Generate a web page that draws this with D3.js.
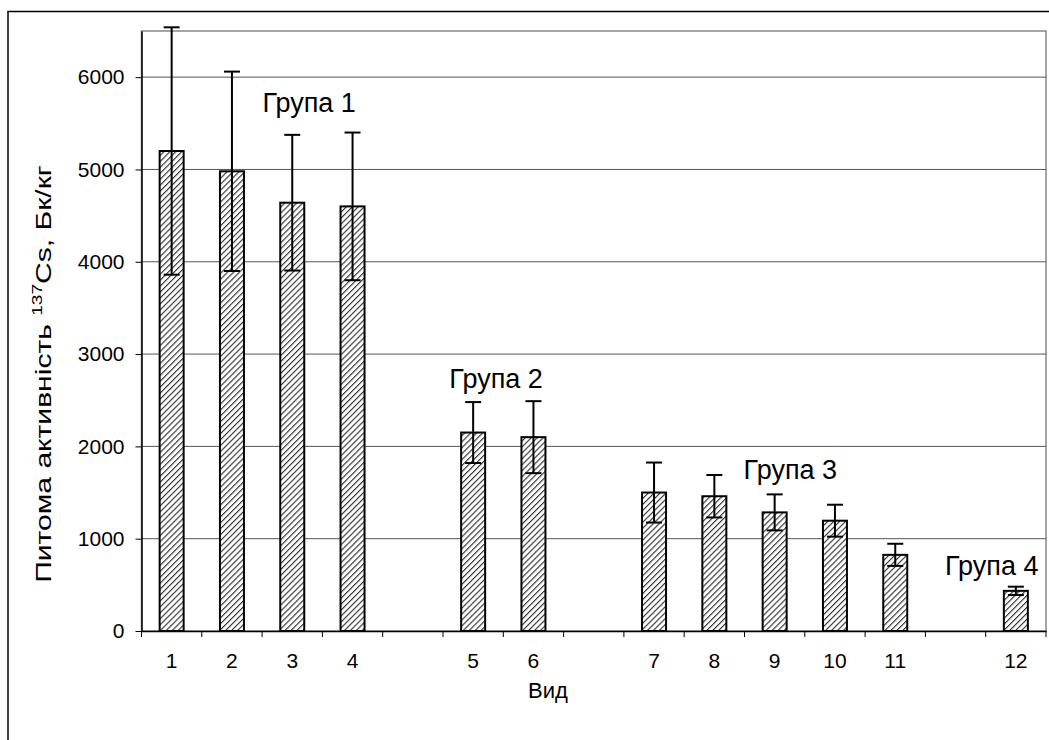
<!DOCTYPE html>
<html>
<head>
<meta charset="utf-8">
<script src="https://cdn.jsdelivr.net/npm/d3@7"></script>
<style>
  body { margin: 0; background: #fff; }
  text { font-family: "Liberation Sans", Arial, sans-serif; fill: #000; }
</style>
</head>
<body>
<svg id="chart" width="1049" height="740"></svg>
<script>
// slots on the x axis, empty strings are the gaps between groups
var categories = ['1', '2', '3', '4', '', '5', '6', '', '7', '8', '9', '10', '11', '', '12'];
var values = [5200, 4980, 4640, 4600, null, 2150, 2100, null, 1500, 1460, 1285, 1195, 825, null, 435];
var errors = [1340, 1080, 735, 800, null, 330, 390, null, 325, 230, 195, 173, 120, null, 45];
var yTicks = [0, 1000, 2000, 3000, 4000, 5000, 6000];
var groupLabels = ['Група 1', 'Група 2', 'Група 3', 'Група 4'];
var groupPos = [2.78, 5.88, 10.76, 14.1];      // in slot units
var groupVal = [5620, 2630, 1645, 610];         // baseline value

var svg = d3.select('#chart');
var margin = { left: 141.5, top: 31, right: 1046, bottom: 631 };
var font = '"Liberation Sans", Arial, sans-serif';

var x = d3.scaleBand()
  .domain(d3.range(categories.length))
  .range([margin.left, margin.right])
  .padding(0);
var xPos = d3.scaleLinear().domain([0, categories.length]).range([margin.left, margin.right]);
var y = d3.scaleLinear().domain([0, 6500]).range([margin.bottom, margin.top]);

// hatch
var defs = svg.append('defs');
var pat = defs.append('pattern')
  .attr('id', 'hatch')
  .attr('patternUnits', 'userSpaceOnUse')
  .attr('width', 4.2).attr('height', 4.2)
  .attr('patternTransform', 'rotate(45)');
pat.append('rect').attr('width', 4.2).attr('height', 4.2).attr('fill', '#fff');
pat.append('line')
  .attr('x1', 0).attr('y1', 0).attr('x2', 0).attr('y2', 4.2)
  .attr('stroke', '#333').attr('stroke-width', 2.3);

// outer frame (only top and left visible)
svg.append('path')
  .attr('d', 'M8,740 V11.5 H1049')
  .attr('fill', 'none').attr('stroke', '#000').attr('stroke-width', 1.5);

// plot frame
svg.append('rect')
  .attr('x', margin.left).attr('y', margin.top)
  .attr('width', margin.right - margin.left).attr('height', margin.bottom - margin.top)
  .attr('fill', 'none').attr('stroke', '#888').attr('stroke-width', 1.5);

// grid
svg.append('g').selectAll('line')
  .data(yTicks.filter(function(d) { return d > 0; }))
  .enter().append('line')
  .attr('x1', margin.left).attr('x2', margin.right)
  .attr('y1', function(d) { return y(d); }).attr('y2', function(d) { return y(d); })
  .attr('stroke', '#555').attr('stroke-width', 1);

// y axis
var yAxis = svg.append('g')
  .attr('transform', 'translate(' + margin.left + ',0)')
  .call(d3.axisLeft(y).tickValues(yTicks).tickFormat(d3.format('d'))
    .tickSize(6).tickPadding(11).tickSizeOuter(0));
yAxis.attr('font-size', 21).attr('font-family', font);
yAxis.select('.domain').attr('stroke', '#000').attr('stroke-width', 1.5);
yAxis.selectAll('.tick line').attr('stroke', '#000');

// x axis
var xAxis = svg.append('g')
  .attr('transform', 'translate(0,' + margin.bottom + ')')
  .call(d3.axisBottom(x).tickFormat(function(i) { return categories[i]; }).tickSize(0).tickPadding(22));
xAxis.attr('font-size', 21).attr('font-family', font);
xAxis.select('.domain').attr('stroke', '#000').attr('stroke-width', 1.5);
svg.append('g').selectAll('line')
  .data(d3.range(categories.length + 1))
  .enter().append('line')
  .attr('x1', function(i) { return xPos(i); }).attr('x2', function(i) { return xPos(i); })
  .attr('y1', margin.bottom).attr('y2', margin.bottom + 6)
  .attr('stroke', '#000').attr('stroke-width', 1);

// bars
var data = values.map(function(v, i) { return { i: i, v: v, e: errors[i] }; })
  .filter(function(d) { return d.v !== null; });
var barW = 24;
svg.append('g').selectAll('rect')
  .data(data)
  .enter().append('rect')
  .attr('x', function(d) { return x(d.i) + x.bandwidth() / 2 - barW / 2; })
  .attr('y', function(d) { return y(d.v); })
  .attr('width', barW)
  .attr('height', function(d) { return y(0) - y(d.v); })
  .attr('fill', 'url(#hatch)')
  .attr('stroke', '#000').attr('stroke-width', 2);

// error bars
var eb = svg.append('g').selectAll('g')
  .data(data)
  .enter().append('g')
  .attr('stroke', '#000').attr('stroke-width', 2);
eb.append('line')
  .attr('x1', function(d) { return x(d.i) + x.bandwidth() / 2; })
  .attr('x2', function(d) { return x(d.i) + x.bandwidth() / 2; })
  .attr('y1', function(d) { return y(d.v - d.e); })
  .attr('y2', function(d) { return y(d.v + d.e); });
[1, -1].forEach(function(s) {
  eb.append('line')
    .attr('x1', function(d) { return x(d.i) + x.bandwidth() / 2 - 8; })
    .attr('x2', function(d) { return x(d.i) + x.bandwidth() / 2 + 8; })
    .attr('y1', function(d) { return y(d.v + s * d.e); })
    .attr('y2', function(d) { return y(d.v + s * d.e); });
});

// group labels
svg.append('g').selectAll('text')
  .data(groupLabels)
  .enter().append('text')
  .attr('x', function(d, i) { return xPos(groupPos[i]); })
  .attr('y', function(d, i) { return y(groupVal[i]); })
  .attr('text-anchor', 'middle')
  .style('font-size', '27px')
  .text(function(d) { return d; });

// axis titles
svg.append('text')
  .attr('x', 548).attr('y', 698)
  .attr('text-anchor', 'middle')
  .style('font-size', '22px')
  .text('Вид');

var yt = svg.append('text')
  .attr('text-anchor', 'middle')
  .style('font-size', '22px');
yt.append('tspan').text('Питома активність ');
yt.append('tspan').attr('dy', -9).style('font-size', '14px').text('137');
yt.append('tspan').attr('dy', 9).text('Cs, Бк/кг');
// the title in the original is drawn wider than the font gives, stretch it
var tw = yt.node().getComputedTextLength();
var sx = 418 / tw;
yt.attr('transform', 'translate(51,374) rotate(-90) scale(' + sx + ',1)');
</script>
</body>
</html>
